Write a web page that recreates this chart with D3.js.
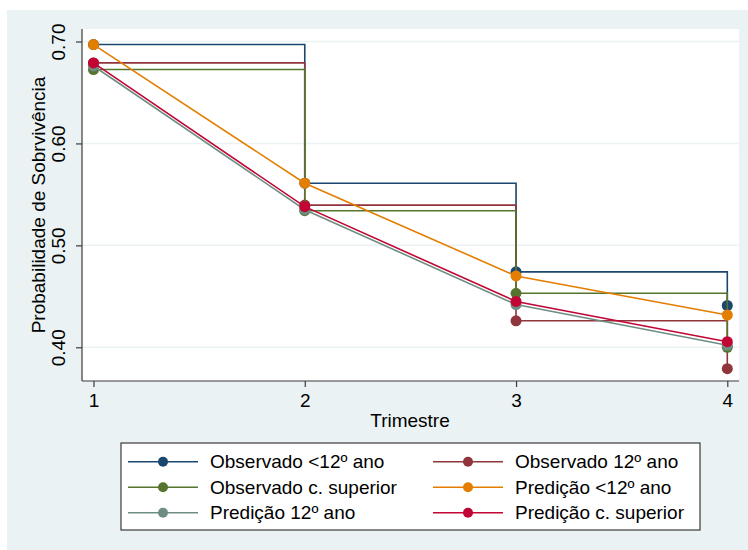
<!DOCTYPE html>
<html>
<head>
<meta charset="utf-8">
<script src="https://cdn.jsdelivr.net/npm/d3@7"></script>
<style>
  html, body { margin: 0; padding: 0; background: #fff; }
  svg { display: block; font-family: "Liberation Sans", Arial, Helvetica, sans-serif; }
</style>
</head>
<body>
<div id="chart"></div>
<script>
const trimestres = [1, 2, 3, 4]
const yTicks = [0.40, 0.50, 0.60, 0.70]

const obsMenos12 = [0.697, 0.561, 0.474, 0.441]
const obs12 = [0.679, 0.5395, 0.426, 0.379]
const obsSuperior = [0.6725, 0.534, 0.453, 0.400]
const predMenos12 = [0.697, 0.561, 0.470, 0.4317]
const pred12 = [0.676, 0.535, 0.442, 0.402]
const predSuperior = [0.679, 0.538, 0.445, 0.4055]

const seriesNames = [
  'Observado <12º ano', 'Observado 12º ano',
  'Observado c. superior', 'Predição <12º ano',
  'Predição 12º ano', 'Predição c. superior'
]
const seriesValues = [obsMenos12, obs12, obsSuperior, predMenos12, pred12, predSuperior]
const seriesStep = [true, true, true, false, false, false]
const seriesColors = ['#1a476f', '#90353b', '#55752f', '#e37e00', '#6e8e84', '#c10534']

const FONT = 19

class SurvivalChart {
  constructor (el, width = 748, height = 550) {
    this.width = width
    this.height = height
    this.svg = d3.select(el).append('svg')
      .attr('width', width)
      .attr('height', height)
    this.x = d3.scaleLinear().domain([1, 4]).range([93.5, 727.3])
    this.y = d3.scaleLinear().domain([0.4, 0.7]).range([347.3, 41.5])
    this.plot = { left: 82, top: 29, right: 739, bottom: 381 }
  }

  drawBackground () {
    this.svg.append('rect')
      .attr('x', 7).attr('y', 10)
      .attr('width', this.width - 7).attr('height', this.height - 10)
      .attr('fill', '#eaf2f3')
    const p = this.plot
    this.svg.append('rect')
      .attr('x', p.left).attr('y', p.top)
      .attr('width', p.right - p.left).attr('height', p.bottom - p.top)
      .attr('fill', '#fff')
  }

  drawAxes () {
    const p = this.plot
    const g = this.svg.append('g')

    // gridlines
    g.selectAll('.grid').data(yTicks).enter().append('line')
      .attr('x1', p.left).attr('x2', p.right)
      .attr('y1', d => this.y(d)).attr('y2', d => this.y(d))
      .attr('stroke', '#eaf2f3').attr('stroke-width', 1.5)

    const yAxis = g.append('g').attr('transform', `translate(${p.left},0)`)
      .call(d3.axisLeft(this.y).tickValues(yTicks).tickSize(6).tickFormat(d3.format('.2f')))
    yAxis.select('.domain').attr('d', `M0,${p.top}V${p.bottom}`)
    yAxis.selectAll('text')
      .attr('x', null).attr('dy', null)
      .attr('transform', 'translate(-17,0) rotate(-90)')
      .attr('text-anchor', 'middle')
      .attr('font-size', FONT).attr('fill', '#000')
      .attr('font-family', null)

    const xAxis = g.append('g').attr('transform', `translate(0,${p.bottom})`)
      .call(d3.axisBottom(this.x).tickValues(trimestres).tickSize(6).tickFormat(d3.format('d')))
    xAxis.select('.domain').attr('d', `M${p.left},0H${p.right}`)
    xAxis.selectAll('text')
      .attr('y', 26).attr('dy', null)
      .attr('font-size', FONT).attr('fill', '#000')
      .attr('font-family', null)

    g.selectAll('.domain, .tick line').attr('stroke', '#3a3a3a').attr('stroke-width', 1.2)

    this.svg.append('text')
      .attr('x', 410).attr('y', 427)
      .attr('text-anchor', 'middle')
      .attr('font-size', FONT)
      .text('Trimestre')

    this.svg.append('text')
      .attr('transform', `translate(45,${(p.top + p.bottom) / 2}) rotate(-90)`)
      .attr('text-anchor', 'middle')
      .attr('font-size', FONT)
      .text('Probabilidade de Sobrvivência')
  }

  drawSeries () {
    const wrap = this.svg.append('g').attr('class', 'series')
    seriesValues.forEach((vals, i) => {
      const pts = trimestres.map((t, j) => [t, vals[j]])
      const line = d3.line()
        .x(d => this.x(d[0])).y(d => this.y(d[1]))
        .curve(seriesStep[i] ? d3.curveStepAfter : d3.curveLinear)
      const g = wrap.append('g')
      g.append('path')
        .attr('d', line(pts))
        .attr('fill', 'none')
        .attr('stroke', seriesColors[i])
        .attr('stroke-width', 1.6)
      g.selectAll('circle').data(pts).enter().append('circle')
        .attr('cx', d => this.x(d[0])).attr('cy', d => this.y(d[1]))
        .attr('r', 5.5)
        .attr('fill', seriesColors[i])
    })
  }

  drawLegend () {
    const g = this.svg.append('g').attr('class', 'legend')
    g.append('rect')
      .attr('x', 121).attr('y', 443)
      .attr('width', 579).attr('height', 87)
      .attr('fill', '#fff').attr('stroke', '#3a3a3a').attr('stroke-width', 1.2)

    const items = g.selectAll('.item').data(seriesNames).enter().append('g')
      .attr('transform', (d, i) => `translate(${i % 2 === 0 ? 128 : 433},${461.7 + Math.floor(i / 2) * 25.5})`)
    items.append('line')
      .attr('x1', 0).attr('x2', 70)
      .attr('stroke', (d, i) => seriesColors[i]).attr('stroke-width', 1.6)
    items.append('circle')
      .attr('cx', 35).attr('r', 5)
      .attr('fill', (d, i) => seriesColors[i])
    items.append('text')
      .attr('x', 82).attr('dy', '0.35em')
      .attr('font-size', FONT)
      .text(d => d)
  }

  render () {
    this.drawBackground()
    this.drawAxes()
    this.drawSeries()
    this.drawLegend()
  }
}

new SurvivalChart('#chart').render()
</script>
</body>
</html>
